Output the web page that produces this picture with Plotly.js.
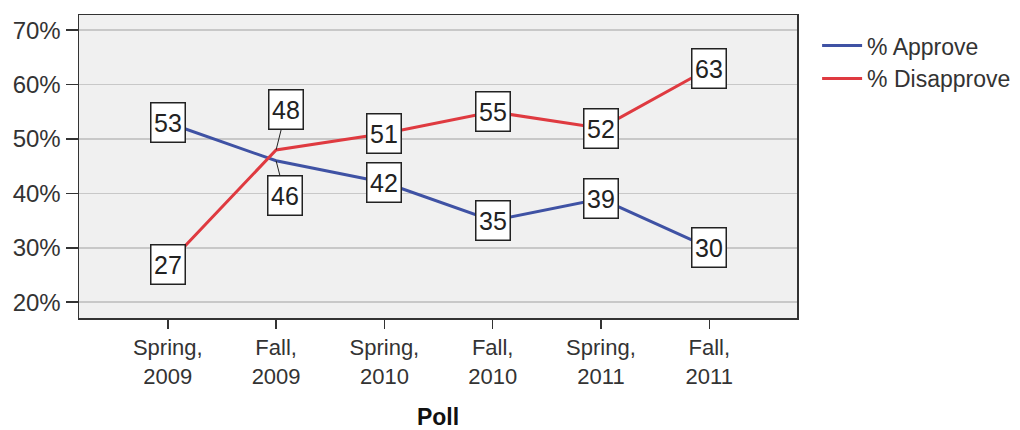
<!DOCTYPE html>
<html>
<head>
<meta charset="utf-8">
<script src="https://cdn.plot.ly/plotly-3.0.1.min.js"></script>
<style>html,body{margin:0;padding:0;background:#fff;}#chart{width:1020px;height:430px;}</style>
</head>
<body>
<div id="chart"></div>
<script>
const categories = ["Spring,<br>2009", "Fall,<br>2009", "Spring,<br>2010", "Fall,<br>2010", "Spring,<br>2011", "Fall,<br>2011"];
const approve = [53, 46, 42, 35, 39, 30];
const disapprove = [27, 48, 51, 55, 52, 63];
const yTicks = [20, 30, 40, 50, 60, 70];

const FONT = "Liberation Sans, Arial, sans-serif";
const traces = [
  {x: categories, y: approve, type: "scatter", mode: "lines", name: "% Approve",
   line: {color: "#3F52A4", width: 3}},
  {x: categories, y: disapprove, type: "scatter", mode: "lines", name: "% Disapprove",
   line: {color: "#DF3A40", width: 3}}
];

// label offsets (pixels) for crowded points
const offA = {1: [9, 35]};
const offD = {1: [10, -40]};
const annotations = [];
function addLabels(vals, offs) {
  vals.forEach((v, i) => {
    const o = offs[i];
    annotations.push({
      x: categories[i], y: v, xref: "x", yref: "y",
      text: String(v), showarrow: !!o, arrowhead: 0, arrowwidth: 1, arrowcolor: "#222",
      ax: o ? o[0] : 0, ay: o ? o[1] : 0, standoff: 0,
      width: 31, height: 36, align: "center", valign: "middle",
      bgcolor: "#ffffff", bordercolor: "#222", borderwidth: 1.5, borderpad: 1,
      font: {family: FONT, size: 25, color: "#222"}
    });
  });
}
addLabels(approve, offA);
addLabels(disapprove, offD);

const layout = {
  width: 1020, height: 430,
  margin: {l: 79, r: 223, t: 15, b: 112, autoexpand: false},
  paper_bgcolor: "#ffffff", plot_bgcolor: "#f0f0f0",
  font: {family: FONT, size: 22, color: "#333"},
  xaxis: {
    type: "category", range: [-0.82, 5.81],
    showgrid: false, zeroline: false,
    ticks: "outside", ticklen: 9, tickcolor: "#333", tickwidth: 1.5,
    showline: true, mirror: true, linecolor: "#333", linewidth: 1.5,
    tickfont: {family: FONT, size: 22, color: "#333"},
    title: {text: "<b>Poll</b>", font: {family: FONT, size: 23, color: "#111"}, standoff: 24}
  },
  yaxis: {
    range: [17.1, 72.8], tickvals: yTicks, ticktext: yTicks.map(v => v + "%"),
    showgrid: true, gridcolor: "#c8c8c8", gridwidth: 1.5, zeroline: false,
    ticks: "outside", ticklen: 12, tickcolor: "#333", tickwidth: 1.5,
    showline: true, mirror: true, linecolor: "#333", linewidth: 1.5,
    tickfont: {family: FONT, size: 24, color: "#333"}
  },
  showlegend: true,
  legend: {x: 1.028, y: 0.97, xanchor: "left", yanchor: "top", itemwidth: 40,
    font: {family: FONT, size: 23, color: "#333"}, bgcolor: "rgba(0,0,0,0)"},
  annotations: annotations
};

Plotly.newPlot("chart", traces, layout, {displayModeBar: false, staticPlot: true});
</script>
</body>
</html>
